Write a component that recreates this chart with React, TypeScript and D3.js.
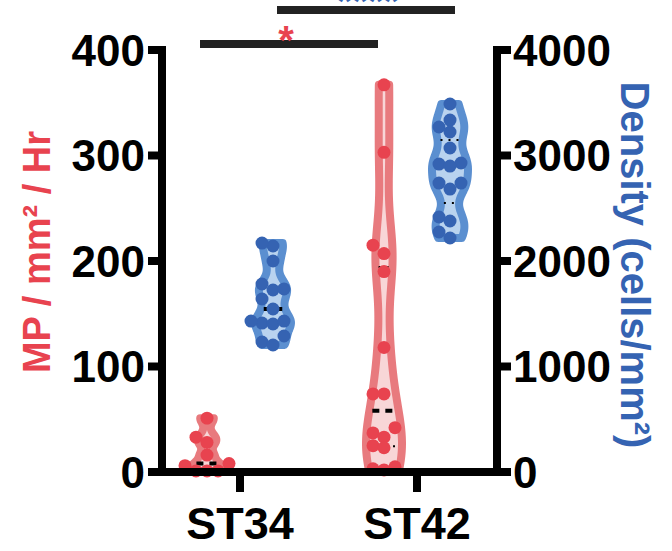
import React, { useEffect, useRef } from 'react';
import * as d3 from 'd3';

const categories = ['ST34', 'ST42'];

// MP / mm² / Hr (left axis)
const mpST34 = [51, 33, 28, 16, 8, 6, 1, 1, 1];
const mpST42 = [367, 303, 215, 207, 190, 118, 74, 74, 42, 37, 33, 25, 23, 5, 3, 2];

// Density (cells/mm²) (right axis)
const denST34 = [2142, 2170, 2000, 1782, 1725, 1735, 1640, 1545, 1412, 1403, 1431, 1431, 1289, 1232, 1204];
const denST42 = [3488, 3336, 3270, 3223, 3071, 2929, 2919, 2900, 2739, 2739, 2682, 2417, 2379, 2275, 2218];

const leftTicks = [0, 100, 200, 300, 400];
const rightTicks = [0, 1000, 2000, 3000, 4000];

const RED = '#e8434f';
const RED_STROKE = '#e87a7e';
const RED_FILL = '#f8d6d7';
const BLUE = '#3563b2';
const BLUE_STROKE = '#5b8fd0';
const BLUE_FILL = '#b9d3ef';
const FONT = 'Liberation Sans, Arial, sans-serif';

function kde(values: number[], h: number, lo: number, hi: number, n = 80) {
  const pts: { v: number; d: number }[] = [];
  for (let i = 0; i <= n; i++) {
    const v = lo + ((hi - lo) * i) / n;
    const d = d3.sum(values, x => Math.exp(-0.5 * ((v - x) / h) ** 2));
    pts.push({ v, d });
  }
  return pts;
}

function swarm(values: number[], y: (v: number) => number, step: number) {
  const placed: { px: number; py: number }[] = [];
  const order = values.map((v, i) => ({ v, i })).sort((a, b) => a.v - b.v);
  const out: number[] = new Array(values.length).fill(0);
  order.forEach(({ v, i }) => {
    const py = y(v);
    for (let k = 0; k < 20; k++) {
      const off = (k % 2 === 0 ? 1 : -1) * Math.ceil(k / 2) * step;
      const ok = placed.every(p => Math.hypot(p.px - off, p.py - py) >= step * 0.95);
      if (ok) {
        placed.push({ px: off, py });
        out[i] = off;
        break;
      }
    }
  });
  return out;
}

const App: React.FC = () => {
  const svgRef = useRef<SVGSVGElement>(null);

  useEffect(() => {
    const svg = d3.select(svgRef.current);
    svg.selectAll('*').remove();

    const x = d3.scalePoint<string>().domain(categories).range([240, 417]);
    const yL = d3.scaleLinear().domain([0, 400]).range([472, 50]);
    const yR = d3.scaleLinear().domain([0, 4000]).range([472, 50]);

    const groups = [
      { vals: mpST34, cx: x('ST34')! - 33, y: yL, stroke: RED_STROKE, fill: RED_FILL, dot: RED },
      { vals: denST34, cx: x('ST34')! + 33, y: yR, stroke: BLUE_STROKE, fill: BLUE_FILL, dot: BLUE },
      { vals: mpST42, cx: x('ST42')! - 33, y: yL, stroke: RED_STROKE, fill: RED_FILL, dot: RED },
      { vals: denST42, cx: x('ST42')! + 33, y: yR, stroke: BLUE_STROKE, fill: BLUE_FILL, dot: BLUE },
    ];

    groups.forEach(g => {
      const [lo, hi] = d3.extent(g.vals) as [number, number];
      const bw = (hi - lo) / 12;
      const dens = kde(g.vals, bw, lo, hi);
      const maxD = d3.max(dens, d => d.d)!;
      const w = d3.scaleLinear().domain([0, maxD]).range([3, 18]);
      const area = d3.area<{ v: number; d: number }>()
        .y(d => g.y(d.v))
        .x0(d => g.cx - w(d.d))
        .x1(d => g.cx + w(d.d))
        .curve(d3.curveBasis);
      svg.append('path')
        .attr('d', area(dens))
        .attr('fill', g.fill)
        .attr('stroke', g.stroke)
        .attr('stroke-width', 8)
        .attr('stroke-linejoin', 'round');

      const sorted = [...g.vals].sort(d3.ascending);
      const q = [0.25, 0.5, 0.75].map(p => d3.quantile(sorted, p)!);
      q.forEach((qv, i) => {
        const dd = d3.sum(g.vals, v => Math.exp(-0.5 * ((qv - v) / bw) ** 2));
        const hw = w(dd) - 3;
        svg.append('line')
          .attr('x1', g.cx - hw).attr('x2', g.cx + hw)
          .attr('y1', g.y(qv)).attr('y2', g.y(qv))
          .attr('stroke', '#000')
          .attr('stroke-width', i === 1 ? 4 : 2)
          .attr('stroke-dasharray', i === 1 ? '7,6' : '2,6');
      });

      const offs = swarm(g.vals, g.y, 11);
      svg.append('g').selectAll('circle')
        .data(g.vals)
        .join('circle')
        .attr('cx', (_, i) => g.cx + offs[i])
        .attr('cy', d => g.y(d))
        .attr('r', 6.5)
        .attr('fill', g.dot);
    });

    // axes
    const axisG = svg.append('g').attr('stroke', '#000').attr('stroke-width', 8);
    axisG.append('line').attr('x1', 162).attr('x2', 162).attr('y1', 46).attr('y2', 476);
    axisG.append('line').attr('x1', 497).attr('x2', 497).attr('y1', 46).attr('y2', 476);
    axisG.append('line').attr('x1', 158).attr('x2', 501).attr('y1', 472).attr('y2', 472);
    leftTicks.forEach(t => {
      axisG.append('line').attr('x1', 148).attr('x2', 162).attr('y1', yL(t)).attr('y2', yL(t));
    });
    rightTicks.forEach(t => {
      axisG.append('line').attr('x1', 497).attr('x2', 511).attr('y1', yR(t)).attr('y2', yR(t));
    });
    categories.forEach(c => {
      axisG.append('line').attr('x1', x(c)!).attr('x2', x(c)!).attr('y1', 472).attr('y2', 492);
    });

    svg.append('g').selectAll('text')
      .data(leftTicks)
      .join('text')
      .attr('x', 145).attr('y', d => yL(d))
      .attr('dy', '0.36em')
      .attr('text-anchor', 'end')
      .attr('font-family', FONT).attr('font-weight', 'bold').attr('font-size', 44)
      .text(d => d);

    svg.append('g').selectAll('text')
      .data(rightTicks)
      .join('text')
      .attr('x', 513).attr('y', d => yR(d))
      .attr('dy', '0.36em')
      .attr('text-anchor', 'start')
      .attr('font-family', FONT).attr('font-weight', 'bold').attr('font-size', 44)
      .text(d => d);

    svg.append('g').selectAll('text')
      .data(categories)
      .join('text')
      .attr('x', d => x(d)!).attr('y', 539)
      .attr('text-anchor', 'middle')
      .attr('font-family', FONT).attr('font-weight', 'bold').attr('font-size', 45)
      .text(d => d);

    svg.append('text')
      .attr('transform', 'translate(50,252) rotate(-90)')
      .attr('text-anchor', 'middle')
      .attr('font-family', FONT).attr('font-weight', 'bold').attr('font-size', 38)
      .attr('fill', RED)
      .text('MP / mm² / Hr');

    svg.append('text')
      .attr('transform', 'translate(621,265) rotate(90)')
      .attr('text-anchor', 'middle')
      .attr('font-family', FONT).attr('font-weight', 'bold').attr('font-size', 40)
      .attr('fill', BLUE)
      .text('Density (cells/mm²)');

    // significance bars
    svg.append('line').attr('x1', 200).attr('x2', 378).attr('y1', 44).attr('y2', 44)
      .attr('stroke', '#222').attr('stroke-width', 8);
    svg.append('text').attr('x', 286).attr('y', 54).attr('text-anchor', 'middle')
      .attr('font-family', FONT).attr('font-weight', 'bold').attr('font-size', 40)
      .attr('fill', RED).text('*');
    svg.append('line').attr('x1', 277).attr('x2', 455).attr('y1', 10).attr('y2', 10)
      .attr('stroke', '#222').attr('stroke-width', 8);
    svg.append('text').attr('x', 368).attr('y', 15).attr('text-anchor', 'middle')
      .attr('font-family', FONT).attr('font-weight', 'bold').attr('font-size', 40)
      .attr('fill', BLUE).text('****');
  }, []);

  return (
    <svg
      ref={svgRef}
      width={672}
      height={551}
      style={{ position: 'absolute', left: 0, top: 0, background: '#fff' }}
    />
  );
};

export default App;
